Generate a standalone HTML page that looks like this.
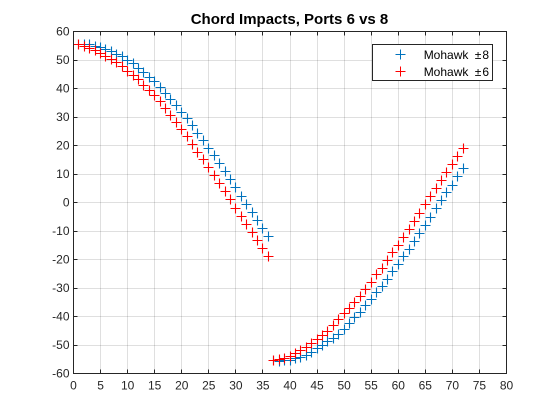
<!DOCTYPE html>
<html lang="en">
<head>
<meta charset="utf-8">
<title>Chord Impacts, Ports 6 vs 8</title>
<style>
html,body{margin:0;padding:0;background:#fff;}
svg{display:block;font-family:"Liberation Sans",Arial,sans-serif;}
</style>
</head>
<body>
<svg id="chart" xmlns="http://www.w3.org/2000/svg" width="560" height="420" viewBox="0 0 560 420">
  <rect x="0" y="0" width="560" height="420" fill="#ffffff"/>
  <g id="grid"></g>
  <g id="series"></g>
  <g id="axes"></g>
  <text x="289.5" y="24" text-anchor="middle" font-size="15" font-weight="bold" fill="#000000">Chord Impacts, Ports 6 vs 8</text>
  <g>
    <rect x="372.5" y="44.5" width="120" height="36" fill="#ffffff" stroke="#262626" stroke-width="1"/>
    <g>
      <path d="M395.5 54.5h10M400.5 49.5v10" stroke="#0072BD" stroke-width="1" fill="none"/>
      <text x="489" y="59" text-anchor="end" font-size="12" fill="#000000">Mohawk <tspan dx="3">&#177;</tspan><tspan dx="1">8</tspan></text>
    </g>
    <g>
      <path d="M395.5 71.5h10M400.5 66.5v10" stroke="#FF0000" stroke-width="1" fill="none"/>
      <text x="489" y="76" text-anchor="end" font-size="12" fill="#000000">Mohawk <tspan dx="3">&#177;</tspan><tspan dx="1">6</tspan></text>
    </g>
  </g>
</svg>
<script>
var xTickLabels = [0,5,10,15,20,25,30,35,40,45,50,55,60,65,70,75,80];
var yTickLabels = [60,50,40,30,20,10,0,-10,-20,-30,-40,-50,-60];
var portIndex = [1,2,3,4,5,6,7,8,9,10,11,12,13,14,15,16,17,18,19,20,21,22,23,24,25,26,27,28,29,30,31,32,33,34,35,36,37,38,39,40,41,42,43,44,45,46,47,48,49,50,51,52,53,54,55,56,57,58,59,60,61,62,63,64,65,66,67,68,69,70,71,72];
var mohawk8 = [55.5,55.6,55.3,54.9,54.5,53.8,52.9,52,51.1,49.9,48.6,47.1,45.5,43.9,42.3,40.3,38.2,36,33.9,31.6,29.4,27.1,24.3,21.6,18.9,16.4,13.6,10.9,8.1,5.2,2,-0.8,-3.6,-6.4,-9.2,-12,-55.6,-55.7,-55.6,-55.3,-54.9,-54.3,-53.6,-52.7,-51.4,-50,-48.8,-47.6,-46.2,-44.5,-42.6,-40.4,-38.5,-36.2,-34.2,-31.6,-29.5,-27,-24.3,-21.8,-19,-16.6,-13.8,-10.9,-8.1,-5.3,-2.2,0.6,3.4,6.1,9.1,12];
var mohawk6 = [55.6,54.9,54.1,53.3,52.3,51.4,50.2,49,47.7,46.1,44.7,43,41.2,39.2,37.4,35.4,33,30.4,28,25.7,23.1,20.4,17.7,15,12.3,9.6,6.8,3.9,0.9,-2,-5,-7.8,-10.6,-13.3,-16.1,-19,-55.6,-55,-54.6,-53.9,-52.9,-52,-50.9,-49.4,-48,-46.5,-45.1,-43.3,-41.2,-39,-37.1,-35.1,-33,-30.7,-27.9,-25.4,-23.1,-20.3,-17.7,-15,-12.3,-9.5,-6.7,-3.8,-0.6,2.2,5,7.8,10.6,13.4,16.1,19];

var NS = 'http://www.w3.org/2000/svg';
var plotLeft = 73.5, plotRight = 506.5, plotTop = 31.5, plotBottom = 373.5;
var xMin = 0, xMax = 80, yMin = -60, yMax = 60;
function xScale(v){ return plotLeft + (v - xMin) / (xMax - xMin) * (plotRight - plotLeft); }
function yScale(v){ return plotBottom - (v - yMin) / (yMax - yMin) * (plotBottom - plotTop); }
function snap(v){ return Math.floor(v) + 0.5; }
function make(tag, attrs, parent){
  var el = document.createElementNS(NS, tag);
  for (var k in attrs) el.setAttribute(k, attrs[k]);
  parent.appendChild(el);
  return el;
}
var gridG = document.getElementById('grid');
var axesG = document.getElementById('axes');
var seriesG = document.getElementById('series');
var axisColor = '#262626';

xTickLabels.forEach(function(t){
  var x = xScale(t);
  var px = snap(x);
  var g = make('line', {x1:px, x2:px, y1:plotTop, y2:plotBottom, stroke:axisColor, 'stroke-opacity':0.15, 'stroke-width':1}, gridG);
  
  
  var b = make('line', {x1:px, x2:px, y1:plotBottom, y2:plotBottom-4, stroke:axisColor, 'stroke-width':1}, axesG);
  
  
  var u = make('line', {x1:px, x2:px, y1:plotTop, y2:plotTop+4, stroke:axisColor, 'stroke-width':1}, axesG);
  
  
  var l = make('text', {x:x, y:plotBottom+16, 'text-anchor':'middle', 'font-size':12, fill:axisColor}, axesG);
  
  
  l.textContent = t;
});
yTickLabels.forEach(function(t){
  var y = yScale(t);
  var py = snap(y);
  var g = make('line', {x1:plotLeft, x2:plotRight, y1:py, y2:py, stroke:axisColor, 'stroke-opacity':0.15, 'stroke-width':1}, gridG);
  
  
  var a = make('line', {x1:plotLeft, x2:plotLeft+4, y1:py, y2:py, stroke:axisColor, 'stroke-width':1}, axesG);
  
  
  var c = make('line', {x1:plotRight, x2:plotRight-4, y1:py, y2:py, stroke:axisColor, 'stroke-width':1}, axesG);
  
  
  var l = make('text', {x:plotLeft-4, y:y+4, 'text-anchor':'end', 'font-size':12, fill:axisColor}, axesG);
  
  
  l.textContent = t;
});
var frame = make('rect', {x:plotLeft, y:plotTop, width:plotRight-plotLeft, height:plotBottom-plotTop, fill:'none', stroke:axisColor, 'stroke-width':1}, axesG);



function drawSeries(values, color, name){
  var g = make('g', {stroke:color, 'stroke-width':1.1, fill:'none'}, seriesG);
  
  
  values.forEach(function(v, i){
    var cx = snap(xScale(portIndex[i])), cy = snap(yScale(v)), r = 5;
    var p = make('path', {d:'M'+(cx-r)+' '+cy+'H'+(cx+r)+'M'+cx+' '+(cy-r)+'V'+(cy+r)}, g);
    
    
  });
}
drawSeries(mohawk8, '#0072BD', 'series-mohawk-8');
drawSeries(mohawk6, '#FF0000', 'series-mohawk-6');
</script>
</body>
</html>
